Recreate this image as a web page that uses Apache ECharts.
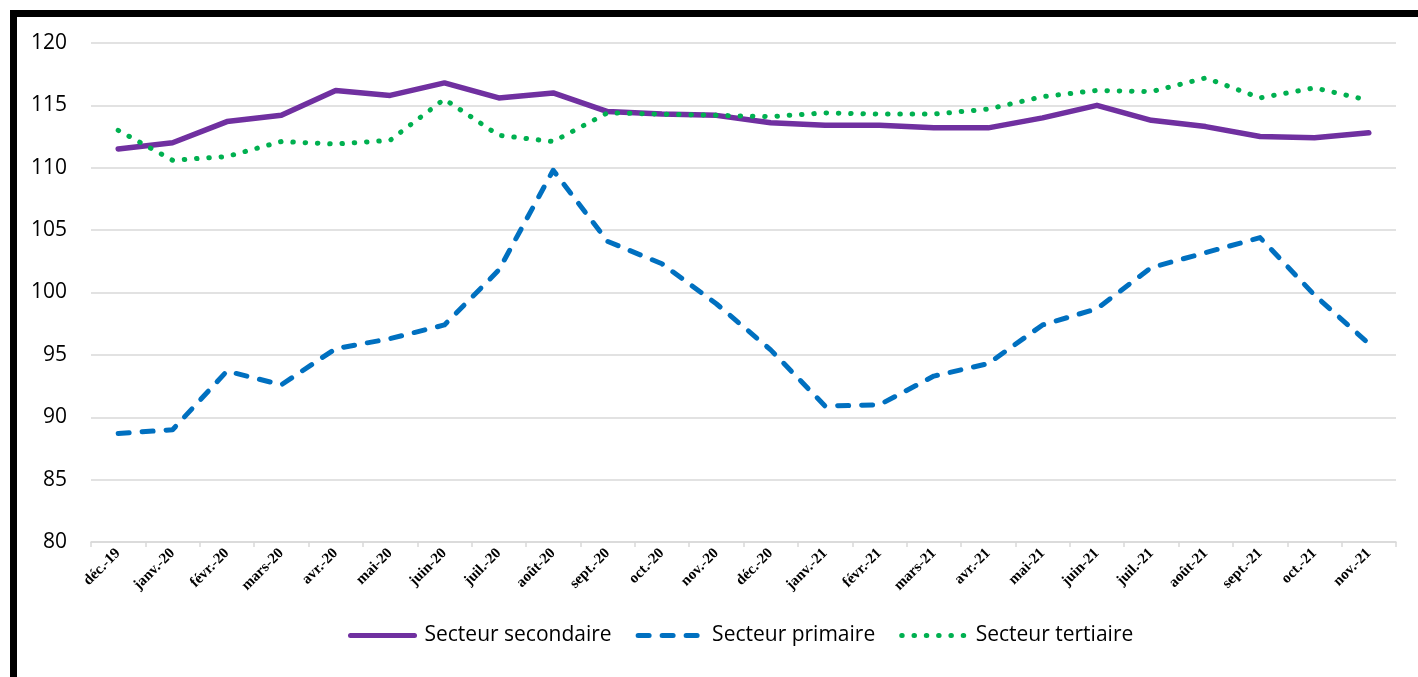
<!DOCTYPE html>
<html>
<head>
<meta charset="utf-8">
<script src="https://cdn.jsdelivr.net/npm/echarts@6/dist/echarts.min.js"></script>
<style>
html,body{margin:0;padding:0;background:#fff;}
#frame{position:absolute;left:10px;top:10px;width:1420px;height:680px;border-top:7px solid #000;border-left:7px solid #000;box-sizing:border-box;}
#chart{position:absolute;left:0;top:0;width:1418px;height:677px;}
</style>
</head>
<body>
<div id="frame"></div>
<div id="chart"></div>
<script>
const categories = ['déc.-19','janv.-20','févr.-20','mars-20','avr.-20','mai-20','juin-20','juil.-20','août-20','sept.-20','oct.-20','nov.-20','déc.-20','janv.-21','févr.-21','mars-21','avr.-21','mai-21','juin-21','juil.-21','août-21','sept.-21','oct.-21','nov.-21'];
const secondaire = [111.5,112.0,113.7,114.2,116.2,115.8,116.8,115.6,116.0,114.5,114.3,114.2,113.6,113.4,113.4,113.2,113.2,114.0,115.0,113.8,113.3,112.5,112.4,112.8];
const primaire = [88.7,89.0,93.7,92.6,95.5,96.3,97.4,101.8,109.8,104.1,102.3,99.1,95.4,90.9,91.0,93.3,94.3,97.4,98.7,102.0,103.2,104.4,99.8,95.9];
const tertiaire = [113.0,110.6,110.9,112.1,111.9,112.2,115.5,112.6,112.1,114.4,114.3,114.2,114.1,114.4,114.3,114.3,114.7,115.7,116.2,116.1,117.2,115.6,116.4,115.4];
const seriesNames = ['Secteur secondaire','Secteur primaire','Secteur tertiaire'];

const chart = echarts.init(document.getElementById('chart'));
chart.setOption({
  backgroundColor: 'transparent',
  animation: false,
  grid: {left: 91, right: 22, top: 43, bottom: 135},
  legend: {
    top: 620, left: 343,
    itemWidth: 64, itemHeight: 14, itemGap: 24,
    itemStyle: {opacity: 0},
    lineStyle: {width: 5, cap: 'round'},
    textStyle: {fontFamily: 'Open Sans', fontSize: 21, color: '#000', padding: [0, 0, 0, 5]},
    data: seriesNames
  },
  xAxis: {
    type: 'category', data: categories, boundaryGap: true,
    axisLine: {lineStyle: {color: '#d9d9d9', width: 1.5}},
    axisTick: {show: true, length: 5, lineStyle: {color: '#d9d9d9', width: 1.5}},
    axisLabel: {rotate: 45, interval: 0, fontFamily: 'Liberation Serif', fontWeight: 'bold', fontSize: 15, color: '#000', margin: 9}
  },
  yAxis: {
    type: 'value', min: 80, max: 120, interval: 5,
    axisLine: {show: false}, axisTick: {show: false},
    splitLine: {lineStyle: {color: '#d9d9d9', width: 1.5}},
    axisLabel: {fontFamily: 'Open Sans', fontSize: 21, color: '#000', margin: 24}
  },
  series: [
    {name: seriesNames[0], type: 'line', data: secondaire, symbol: 'none',
     lineStyle: {color: '#7030A0', width: 5.5, cap: 'round', join: 'round'}, itemStyle: {color: '#7030A0'}},
    {name: seriesNames[1], type: 'line', data: primaire, symbol: 'none',
     lineStyle: {color: '#0070C0', width: 5, type: [11, 13], cap: 'round', join: 'round'}, itemStyle: {color: '#0070C0'}},
    {name: seriesNames[2], type: 'line', data: tertiaire, symbol: 'none',
     lineStyle: {color: '#00B050', width: 5, type: [0.5, 11.8], cap: 'round', join: 'round'}, itemStyle: {color: '#00B050'}}
  ]
});
</script>
</body>
</html>
